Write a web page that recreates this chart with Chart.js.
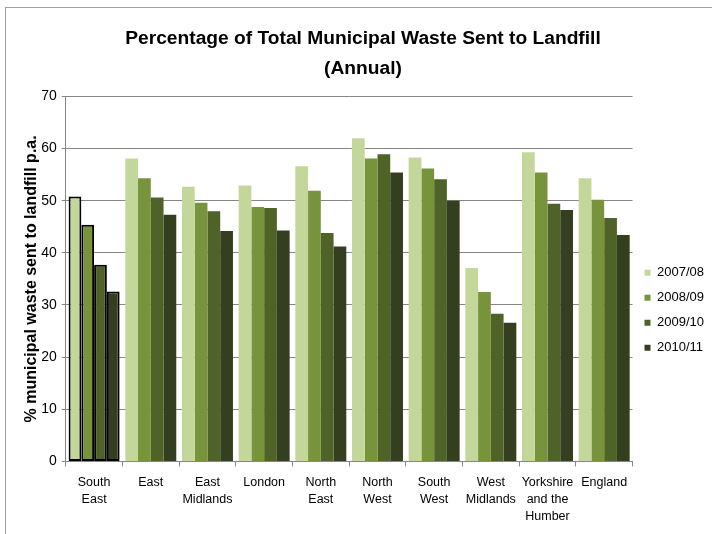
<!DOCTYPE html>
<html>
<head>
<meta charset="utf-8">
<script src="https://cdn.jsdelivr.net/npm/chart.js@4.4.0/dist/chart.umd.min.js"></script>
<style>
  html, body { margin: 0; padding: 0; background: #fff; }
  #wrap { position: relative; width: 712px; height: 534px; overflow: hidden; }
  #frame { position: absolute; left: 5px; top: 7px; right: -2px; bottom: -2px; border-left: 1px solid #a0a0a0; border-top: 1px solid #a0a0a0; }
  canvas { position: absolute; left: 0; top: 0; }
</style>
</head>
<body>
<div id="wrap">
  <div id="frame"></div>
  <canvas id="wasteChart" width="712" height="534"></canvas>
</div>
<script>
// Regions (x axis)
const regions = [
    ["South", "East"], "East", ["East", "Midlands"], "London", ["North", "East"],
    ["North", "West"], ["South", "West"], ["West", "Midlands"], ["Yorkshire", "and the", "Humber"], "England"
];

// Years (series)
const years = ["2007/08", "2008/09", "2009/10", "2010/11"];

// % of municipal waste sent to landfill, one array per year
const y2007 = [50.8, 58.1, 52.7, 52.9, 56.6, 62.0, 58.3, 37.1, 59.3, 54.3];
const y2008 = [45.4, 54.3, 49.6, 48.8, 51.9, 58.1, 56.2, 32.5, 55.4, 50.2];
const y2009 = [37.7, 50.6, 48.0, 48.6, 43.8, 58.9, 54.1, 28.3, 49.4, 46.7];
const y2010 = [32.6, 47.3, 44.2, 44.3, 41.2, 55.4, 50.0, 26.6, 48.2, 43.4];

const colours = ["#c4d79b", "#77933c", "#4f6228", "#343f20"];

const fontName = "'Liberation Sans', Arial, sans-serif";

function makeSet(i, values) {
    return {
        label: years[i],
        data: values,
        backgroundColor: colours[i],
        // the first region (South East) is highlighted with a black outline
        borderColor: "#000",
        borderWidth: function (c) { return c.dataIndex === 0 ? 2 : 0; },
        borderSkipped: false
    };
}

const ctx = document.getElementById("wasteChart").getContext("2d");

new Chart(ctx, {
    type: "bar",
    data: {
        labels: regions,
        datasets: [makeSet(0, y2007), makeSet(1, y2008), makeSet(2, y2009), makeSet(3, y2010)]
    },
    options: {
        responsive: false,
        animation: false,
        layout: { padding: { left: 12, right: -2, top: 23, bottom: 1 } },
        datasets: { bar: { categoryPercentage: 0.9, barPercentage: 1.0 } },
        plugins: {
            title: {
                display: true,
                text: ["Percentage of Total Municipal Waste Sent to Landfill", "(Annual)"],
                color: "#000",
                font: { family: fontName, size: 19.2, weight: "bold", lineHeight: 1.6 },
                padding: { top: 0, bottom: 12 }
            },
            legend: {
                position: "right",
                title: { display: true, text: "", padding: { top: 50, bottom: 0 } },
                labels: {
                    color: "#000",
                    font: { family: fontName, size: 13 },
                    boxWidth: 6,
                    boxHeight: 6,
                    padding: 12,
                    generateLabels: function (chart) {
                        return chart.data.datasets.map(function (d, i) {
                            return { text: d.label, fillStyle: d.backgroundColor, strokeStyle: d.backgroundColor, lineWidth: 0, datasetIndex: i, fontColor: "#000" };
                        });
                    }
                }
            },
            tooltip: { enabled: false }
        },
        scales: {
            x: {
                grid: { display: true, drawOnChartArea: false, drawTicks: true, tickLength: 5, color: "#868686", offset: true },
                border: { color: "#868686" },
                ticks: { color: "#000", font: { family: fontName, size: 12.5, lineHeight: 1.35 }, maxRotation: 0, autoSkip: false, padding: 8 }
            },
            y: {
                min: 0,
                max: 70,
                ticks: { stepSize: 10, color: "#000", font: { family: fontName, size: 14 }, padding: 5 },
                grid: { color: "#868686", tickLength: 4 },
                border: { color: "#868686" },
                title: {
                    display: true,
                    text: "% municipal waste sent to landfill p.a.",
                    color: "#000",
                    font: { family: fontName, size: 16, weight: "bold" },
                    padding: { top: 10, bottom: -5 }
                }
            }
        }
    }
});
</script>
</body>
</html>
